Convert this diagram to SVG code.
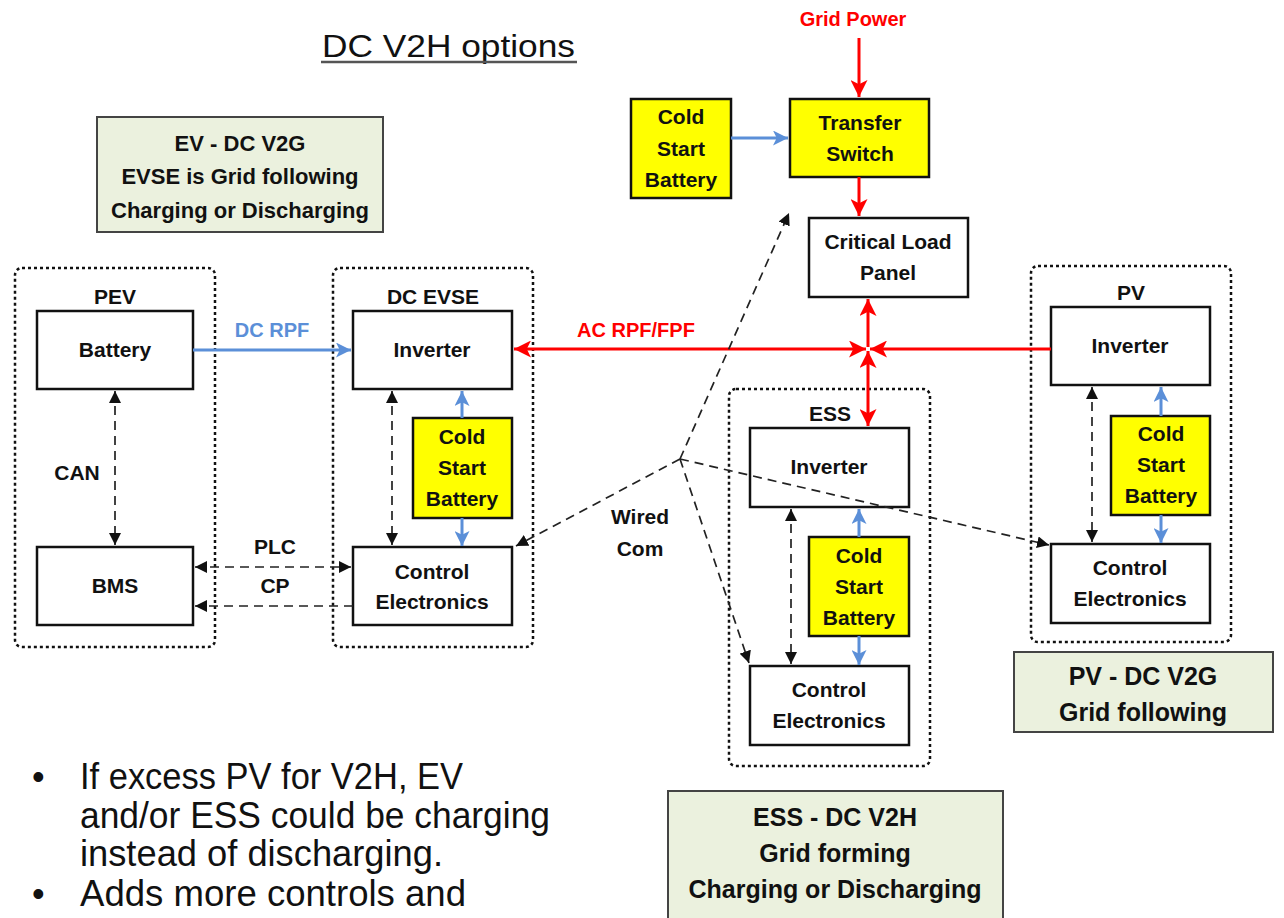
<svg xmlns="http://www.w3.org/2000/svg" width="1284" height="918" viewBox="0 0 1284 918">
<style>
text{font-family:"Liberation Sans",Arial,sans-serif;font-weight:bold;fill:#111;text-anchor:middle}
.box{fill:#fff;stroke:#111;stroke-width:2.5}
.ybox{fill:#ffff00;stroke:#111;stroke-width:2.5}
.gbox{fill:#ebf1de;stroke:#444;stroke-width:2}
.cont{fill:none;stroke:#111;stroke-width:2.5;stroke-dasharray:3 3}
.lbl{font-size:21px}
.glbl{font-size:22px}
.glbl2{font-size:25px}
.red{stroke:#ff0000;stroke-width:3;fill:none}
.blue{stroke:#5b8fd8;stroke-width:3;fill:none}
.dash{stroke:#222;stroke-width:1.7;fill:none;stroke-dasharray:9 6}
.bul{font-family:"Liberation Sans",Arial,sans-serif;font-weight:normal;font-size:36px;text-anchor:start;fill:#111}
</style>
<defs>
<marker id="ar" viewBox="0 0 10 10" refX="10" refY="5" markerWidth="17" markerHeight="17" markerUnits="userSpaceOnUse" orient="auto-start-reverse"><path d="M0,0 L10,5 L0,10 L2.5,5 z" fill="#ff0000"/></marker>
<marker id="ab" viewBox="0 0 10 10" refX="10" refY="5" markerWidth="15" markerHeight="15" markerUnits="userSpaceOnUse" orient="auto-start-reverse"><path d="M0,0 L10,5 L0,10 L2.5,5 z" fill="#5b8fd8"/></marker>
<marker id="ak" viewBox="0 0 10 10" refX="10" refY="5" markerWidth="12" markerHeight="12" markerUnits="userSpaceOnUse" orient="auto-start-reverse"><path d="M0,0 L10,5 L0,10 z" fill="#111"/></marker>
</defs>
<rect width="1284" height="918" fill="#fff"/>

<g id="title">
<text x="322" y="57" textLength="253" lengthAdjust="spacingAndGlyphs" style="font-weight:normal;font-size:31px;text-anchor:start">DC V2H options</text>
<line x1="321" y1="62" x2="577" y2="62" stroke="#555" stroke-width="2.5"/>
</g>

<g id="ev-note">
<rect class="gbox" x="97" y="117" width="286" height="115"/>
<text class="glbl" x="240" y="151">EV - DC V2G</text>
<text class="glbl" x="240" y="184">EVSE is Grid following</text>
<text class="glbl" x="240" y="218">Charging or Discharging</text>
</g>

<g id="pv-note">
<rect class="gbox" x="1014" y="652" width="259" height="80"/>
<text class="glbl2" x="1143" y="685">PV - DC V2G</text>
<text class="glbl2" x="1143" y="721">Grid following</text>
</g>

<g id="ess-note">
<rect class="gbox" x="668" y="791" width="335" height="140"/>
<text class="glbl2" x="835" y="826">ESS - DC V2H</text>
<text class="glbl2" x="835" y="862">Grid forming</text>
<text class="glbl2" x="835" y="898">Charging or Discharging</text>
</g>

<g id="pev">
<rect class="cont" x="15" y="268" width="200" height="379" rx="7"/>
<text class="lbl" x="115" y="304">PEV</text>
</g>
<g id="pev-battery"><rect class="box" x="37" y="311" width="156" height="78"/><text class="lbl" x="115" y="357">Battery</text></g>
<g id="pev-bms"><rect class="box" x="37" y="547" width="156" height="78"/><text class="lbl" x="115" y="593">BMS</text></g>

<g id="dcevse">
<rect class="cont" x="333" y="268" width="200" height="379" rx="7"/>
<text class="lbl" x="433" y="304">DC EVSE</text>
</g>
<g id="evse-inverter"><rect class="box" x="353" y="311" width="159" height="78"/><text class="lbl" x="432" y="357">Inverter</text></g>
<g id="evse-csb"><rect class="ybox" x="413" y="418" width="99" height="100"/><text class="lbl" x="462" y="444">Cold</text><text class="lbl" x="462" y="475">Start</text><text class="lbl" x="462" y="506">Battery</text></g>
<g id="evse-ctrl"><rect class="box" x="353" y="547" width="159" height="78"/><text class="lbl" x="432" y="579">Control</text><text class="lbl" x="432" y="609">Electronics</text></g>

<g id="ess">
<rect class="cont" x="729" y="389" width="201" height="377" rx="7"/>
<text class="lbl" x="830" y="421">ESS</text>
</g>
<g id="ess-inverter"><rect class="box" x="750" y="428" width="159" height="79"/><text class="lbl" x="829" y="474">Inverter</text></g>
<g id="ess-csb"><rect class="ybox" x="809" y="537" width="100" height="99"/><text class="lbl" x="859" y="563">Cold</text><text class="lbl" x="859" y="594">Start</text><text class="lbl" x="859" y="625">Battery</text></g>
<g id="ess-ctrl"><rect class="box" x="750" y="666" width="159" height="79"/><text class="lbl" x="829" y="697">Control</text><text class="lbl" x="829" y="728">Electronics</text></g>

<g id="pv">
<rect class="cont" x="1031" y="266" width="200" height="376" rx="7"/>
<text class="lbl" x="1131" y="300">PV</text>
</g>
<g id="pv-inverter"><rect class="box" x="1051" y="307" width="159" height="78"/><text class="lbl" x="1130" y="353">Inverter</text></g>
<g id="pv-csb"><rect class="ybox" x="1111" y="416" width="99" height="99"/><text class="lbl" x="1161" y="441">Cold</text><text class="lbl" x="1161" y="472">Start</text><text class="lbl" x="1161" y="503">Battery</text></g>
<g id="pv-ctrl"><rect class="box" x="1051" y="544" width="159" height="79"/><text class="lbl" x="1130" y="575">Control</text><text class="lbl" x="1130" y="606">Electronics</text></g>

<g id="top-csb"><rect class="ybox" x="631" y="99" width="100" height="99"/><text class="lbl" x="681" y="124">Cold</text><text class="lbl" x="681" y="156">Start</text><text class="lbl" x="681" y="187">Battery</text></g>
<g id="transfer-switch"><rect class="ybox" x="790" y="99" width="139" height="78"/><text class="lbl" x="860" y="130">Transfer</text><text class="lbl" x="860" y="161">Switch</text></g>
<g id="critical-load"><rect class="box" x="809" y="218" width="159" height="79"/><text class="lbl" x="888" y="249">Critical Load</text><text class="lbl" x="888" y="280">Panel</text></g>
<g id="grid-power"><text x="853" y="26" style="fill:#ff0000;font-size:20px">Grid Power</text></g>

<g id="connectors">
<line class="red" x1="859" y1="38" x2="859" y2="97" marker-end="url(#ar)"/>
<line class="red" x1="859" y1="177" x2="859" y2="216" marker-end="url(#ar)"/>
<line class="red" x1="866" y1="349" x2="514" y2="349" marker-start="url(#ar)" marker-end="url(#ar)"/>
<line class="red" x1="1051" y1="349" x2="870" y2="349" marker-end="url(#ar)"/>
<line class="red" x1="868" y1="347" x2="868" y2="299" marker-end="url(#ar)"/>
<line class="red" x1="868" y1="351" x2="868" y2="426" marker-start="url(#ar)" marker-end="url(#ar)"/>

<line class="blue" x1="193" y1="350" x2="351" y2="350" marker-end="url(#ab)"/>
<line class="blue" x1="731" y1="138" x2="788" y2="138" marker-end="url(#ab)"/>
<line class="blue" x1="462" y1="418" x2="462" y2="391" marker-end="url(#ab)"/>
<line class="blue" x1="462" y1="518" x2="462" y2="546" marker-end="url(#ab)"/>
<line class="blue" x1="859" y1="537" x2="859" y2="509" marker-end="url(#ab)"/>
<line class="blue" x1="859" y1="636" x2="859" y2="665" marker-end="url(#ab)"/>
<line class="blue" x1="1161" y1="416" x2="1161" y2="387" marker-end="url(#ab)"/>
<line class="blue" x1="1161" y1="515" x2="1161" y2="543" marker-end="url(#ab)"/>

<line class="dash" x1="115" y1="391" x2="115" y2="545" marker-start="url(#ak)" marker-end="url(#ak)"/>
<line class="dash" x1="392" y1="391" x2="392" y2="545" marker-start="url(#ak)" marker-end="url(#ak)"/>
<line class="dash" x1="791" y1="509" x2="791" y2="664" marker-start="url(#ak)" marker-end="url(#ak)"/>
<line class="dash" x1="1092" y1="387" x2="1092" y2="542" marker-start="url(#ak)" marker-end="url(#ak)"/>
<line class="dash" x1="195" y1="567" x2="351" y2="567" marker-start="url(#ak)" marker-end="url(#ak)"/>
<line class="dash" x1="353" y1="606" x2="195" y2="606" marker-end="url(#ak)"/>

<line class="dash" x1="680" y1="459" x2="789" y2="213" marker-end="url(#ak)"/>
<line class="dash" x1="680" y1="459" x2="516" y2="546" marker-end="url(#ak)"/>
<line class="dash" x1="680" y1="459" x2="749" y2="663" marker-end="url(#ak)"/>
<line class="dash" x1="680" y1="459" x2="1049" y2="545" marker-end="url(#ak)"/>
</g>

<g id="labels">
<text x="272" y="337" style="fill:#5b8fd8;font-size:20px">DC RPF</text>
<text x="636" y="337" style="fill:#ff0000;font-size:20px">AC RPF/FPF</text>
<text x="77" y="480" class="lbl">CAN</text>
<text x="275" y="554" class="lbl">PLC</text>
<text x="275" y="593" class="lbl">CP</text>
<text x="640" y="524" class="lbl">Wired</text>
<text x="640" y="556" class="lbl">Com</text>
</g>

<g id="bullets">
<text class="bul" x="32" y="789">•</text>
<text class="bul" x="80" y="789" textLength="383" lengthAdjust="spacingAndGlyphs">If excess PV for V2H, EV</text>
<text class="bul" x="80" y="828" textLength="470" lengthAdjust="spacingAndGlyphs">and/or ESS could be charging</text>
<text class="bul" x="80" y="866" textLength="363" lengthAdjust="spacingAndGlyphs">instead of discharging.</text>
<text class="bul" x="32" y="906">•</text>
<text class="bul" x="80" y="906" textLength="386" lengthAdjust="spacingAndGlyphs">Adds more controls and</text>
</g>
</svg>
